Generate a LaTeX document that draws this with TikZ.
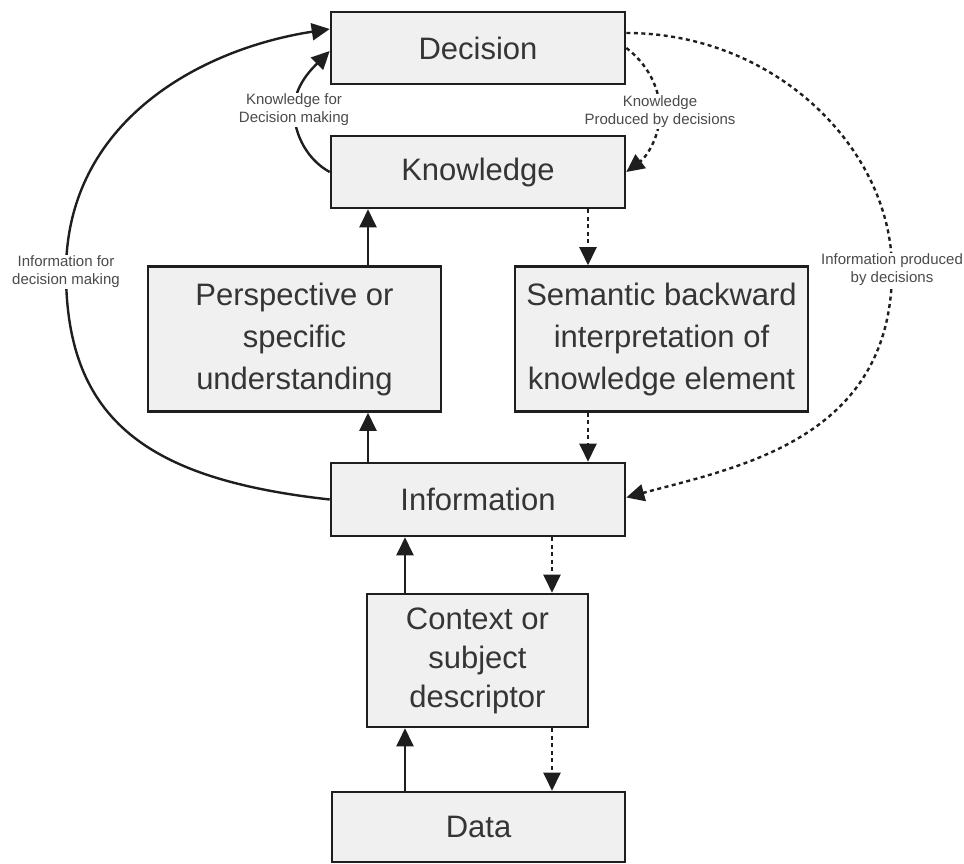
\documentclass[tikz,border=0pt]{standalone}
\usepackage{fontspec}
\setmainfont{Liberation Sans}
\usetikzlibrary{arrows.meta}
\definecolor{boxfill}{HTML}{F0F0F0}
\definecolor{ink}{HTML}{1E1E1E}
\begin{document}
\begin{tikzpicture}[x=1pt,y=-1pt,
  box/.style={draw=ink, line width=2.6pt, fill=boxfill, align=center, inner sep=0pt,
    font=\fontsize{31}{42}\selectfont, text=ink!90},
  flow/.style={line width=2.4pt, draw=ink, -{Triangle[length=18pt,width=17pt]}},
  back/.style={flow, dash pattern=on 4pt off 3.5pt},
  lbl/.style={fill=white, align=center, inner sep=1pt,
    font=\fontsize{15}{18}\selectfont, text=ink!80}]
\useasboundingbox (0,0) rectangle (964,864);

% boxes
\node[box, minimum width=294pt, minimum height=72pt] (dec) at (478,48) {Decision};
\node[box, minimum width=294pt, minimum height=72pt] (kn) at (478,172) {Knowledge};
\node[box, minimum width=293pt, minimum height=145pt] (persp) at (294.5,339)
  {Perspective or\\specific\\understanding};
\node[box, minimum width=293pt, minimum height=145pt] (sem) at (661.5,339)
  {Semantic backward\\interpretation of\\knowledge element};
\node[box, minimum width=294pt, minimum height=73pt] (info) at (478,499.5) {Information};
\node[box, minimum width=221pt, minimum height=133pt, font=\fontsize{31}{39}\selectfont]
  (ctx) at (477.5,660.5) {Context or\\subject\\descriptor};
\node[box, minimum width=293pt, minimum height=70pt] (data) at (478.5,827) {Data};

% label anchors on the curved links
\coordinate (c1) at (66,272);
\coordinate (c2) at (294,110);
\coordinate (c3) at (660,112);
\coordinate (c4) at (892,270);

% upward (solid) links
\draw[flow] ([xshift=73.5pt]persp.north) -- ([xshift=73.5pt]persp.north |- kn.south);
\draw[flow] ([xshift=73.5pt]persp.south |- info.north) -- ([xshift=73.5pt]persp.south);
\draw[flow] ([xshift=-72.5pt]ctx.north) -- ([xshift=-72.5pt]ctx.north |- info.south);
\draw[flow] ([xshift=-72.5pt]ctx.south |- data.north) -- ([xshift=-72.5pt]ctx.south);

% downward (dotted) links
\draw[back] ([xshift=-73.5pt]sem.north |- kn.south) -- ([xshift=-73.5pt]sem.north);
\draw[back] ([xshift=-73.5pt]sem.south) -- ([xshift=-73.5pt]sem.south |- info.north);
\draw[back] ([xshift=74.5pt]ctx.north |- info.south) -- ([xshift=74.5pt]ctx.north);
\draw[back] ([xshift=74.5pt]ctx.south) -- ([xshift=74.5pt]ctx.south |- data.north);

% curved links to and from the decision box
\draw[flow] (info.west) .. controls +(-180,-20) and +(0,150) .. (c1)
  .. controls +(0,-150) and +(-130,20) .. ([yshift=19pt]dec.west);
\draw[flow] (kn.west) .. controls +(-22,-12) and +(0,25) .. (c2)
  .. controls +(0,-25) and +(-16,16) .. ([yshift=-3pt]dec.west);
\draw[back] (dec.east) .. controls +(20,15) and +(0,-25) .. (c3)
  .. controls +(0,25) and +(20,-15) .. (kn.east);
\draw[back] ([yshift=15pt]dec.east) .. controls +(150,0) and +(0,-120) .. (c4)
  .. controls +(0,170) and +(110,-30) .. ([yshift=2pt]info.east);

% link labels
\node[lbl] (l1) at (c1) {Information for\\decision making};
\node[lbl] (l2) at (c2) {Knowledge for\\Decision making};
\node[lbl] (l3) at (c3) {Knowledge\\Produced by decisions};
\node[lbl] (l4) at (c4) {Information produced\\by decisions};
\end{tikzpicture}
\end{document}
